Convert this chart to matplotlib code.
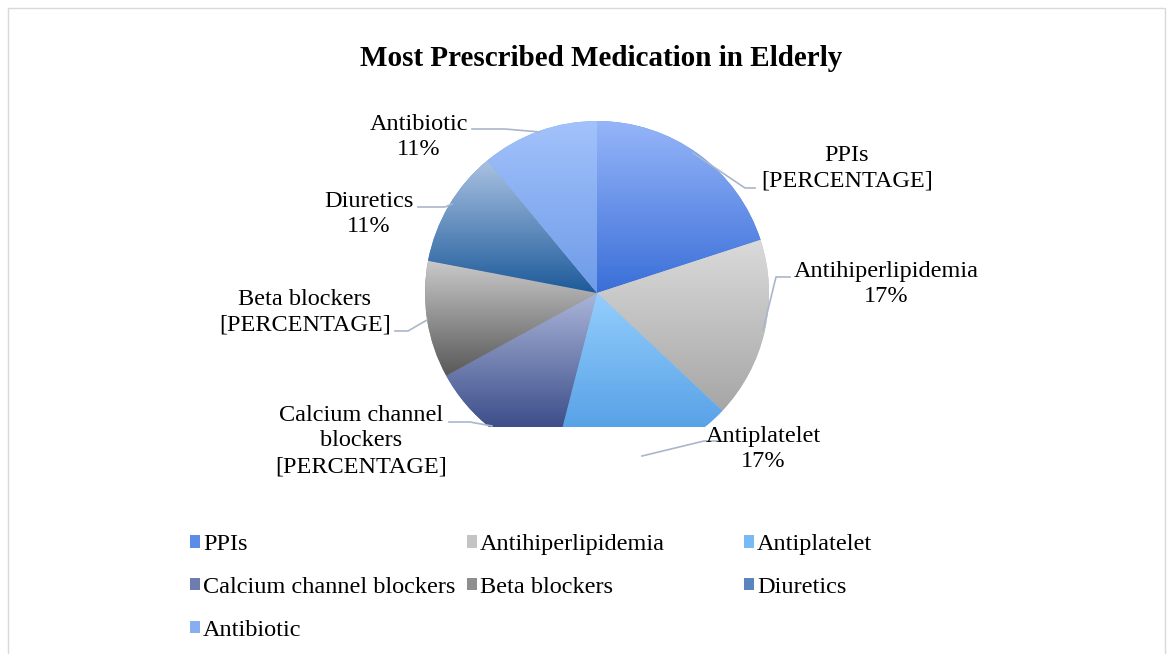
import numpy as np
import matplotlib.pyplot as plt
from matplotlib.patches import Patch, Rectangle
from matplotlib.colors import to_rgb

labels = ["PPIs", "Antihiperlipidemia", "Antiplatelet", "Calcium channel blockers",
          "Beta blockers", "Diuretics", "Antibiotic"]
values = [20, 17, 17, 13, 11, 11, 11]
label_texts = ["PPIs\n[PERCENTAGE]", "Antihiperlipidemia\n17%", "Antiplatelet\n17%",
               "Calcium channel\nblockers\n[PERCENTAGE]", "Beta blockers\n[PERCENTAGE]",
               "Diuretics\n11%", "Antibiotic\n11%"]
# gradient colours (top, bottom) per slice
top_colors = ["#96b5f9", "#dadada", "#94cefc", "#aab5d9", "#cacaca", "#aac2e2", "#a2c2fb"]
bottom_colors = ["#3a6fd8", "#a6a6a6", "#58a2e7", "#3d4e8a", "#585858", "#1d5a9a", "#6e9be8"]
mid_colors = ["#5b8de8", "#c4c4c4", "#78baf3", "#6e7cb0", "#8e8e8e", "#5b86bd", "#88aef2"]

W, H = 1173, 654
plt.rcParams['font.family'] = ['Liberation Serif', 'DejaVu Serif']

fig = plt.figure(figsize=(W / 100, H / 100), dpi=100)
ax = fig.add_axes([0, 0, 1, 1])


def py(y):
    return H - y


cx, cy, R = 597, py(293), 172
wedges, _ = ax.pie(values, startangle=90, counterclock=False, center=(cx, cy),
                   radius=R, colors=mid_colors, wedgeprops=dict(linewidth=0))
ax.set_xlim(0, W)
ax.set_ylim(0, H)
ax.set_aspect('equal')
ax.axis('off')

# the plot area cuts the bottom of the pie off
clip_y = py(427)
clip_rect = Rectangle((0, clip_y), W, H, transform=ax.transData)
for w, c_top, c_bot in zip(wedges, top_colors, bottom_colors):
    w.set_clip_on(True)
    w.set_clip_path(clip_rect)
    ext = w.get_path().get_extents()
    y0 = max(ext.y0, clip_y)
    t = np.linspace(0, 1, 256)[:, None]
    grad = (1 - t) * np.array(to_rgb(c_bot)) + t * np.array(to_rgb(c_top))
    img = ax.imshow(grad[:, None, :], extent=(ext.x0, ext.x1, y0, ext.y1),
                    origin='lower', aspect='auto', interpolation='bilinear', zorder=2)
    img.set_clip_path(w)

# data labels with leader lines
label_pos = [(847, 168), (886, 284), (763, 449), (361, 441), (305, 312), (369, 214), (419, 137)]
leaders = [
    [(693, 153), (745, 188), (755, 188)],
    [(763, 330), (776, 277), (790, 277)],
    [(642, 456), (704, 441), (717, 441)],
    [(449, 422), (470, 422), (492, 426)],
    [(395, 331), (408, 331), (427, 320)],
    [(418, 207), (445, 207), (452, 204)],
    [(472, 129), (505, 129), (540, 132)],
]
for txt, (lx, ly) in zip(label_texts, label_pos):
    ax.text(lx, py(ly), txt, ha='center', va='center', fontsize=17.5,
            linespacing=1.3, color='black', zorder=5)
for pts in leaders:
    xs = [p[0] for p in pts]
    ys = [py(p[1]) for p in pts]
    ax.plot(xs, ys, color='#a9b7cb', lw=1.2, zorder=4)

ax.text(601, py(58), "Most Prescribed Medication in Elderly", ha='center', va='center',
        fontsize=21, fontweight='bold')

# outer frame
fig.patches.append(Rectangle((8 / W, -0.1), (1165 - 8) / W, 1.1 - 8 / H, transform=fig.transFigure,
                             fill=False, edgecolor='#d9d9d9', lw=1))

# legend in three columns, Excel style fixed column widths
handles = [Patch(facecolor=c, edgecolor='none') for c in mid_colors]
columns = [[0, 3, 6], [1, 4], [2, 5]]
col_x = [190, 467, 744]
for cols, x in zip(columns, col_x):
    leg = fig.legend([handles[i] for i in cols], [labels[i] for i in cols],
                     loc='upper left', bbox_to_anchor=(x / W, 1 - 534 / H),
                     frameon=False, fontsize=17.5, handlelength=0.42, handleheight=0.42,
                     handletextpad=0.12, labelspacing=0.9, borderpad=0, borderaxespad=0)

fig.savefig("out.png", dpi=100)
